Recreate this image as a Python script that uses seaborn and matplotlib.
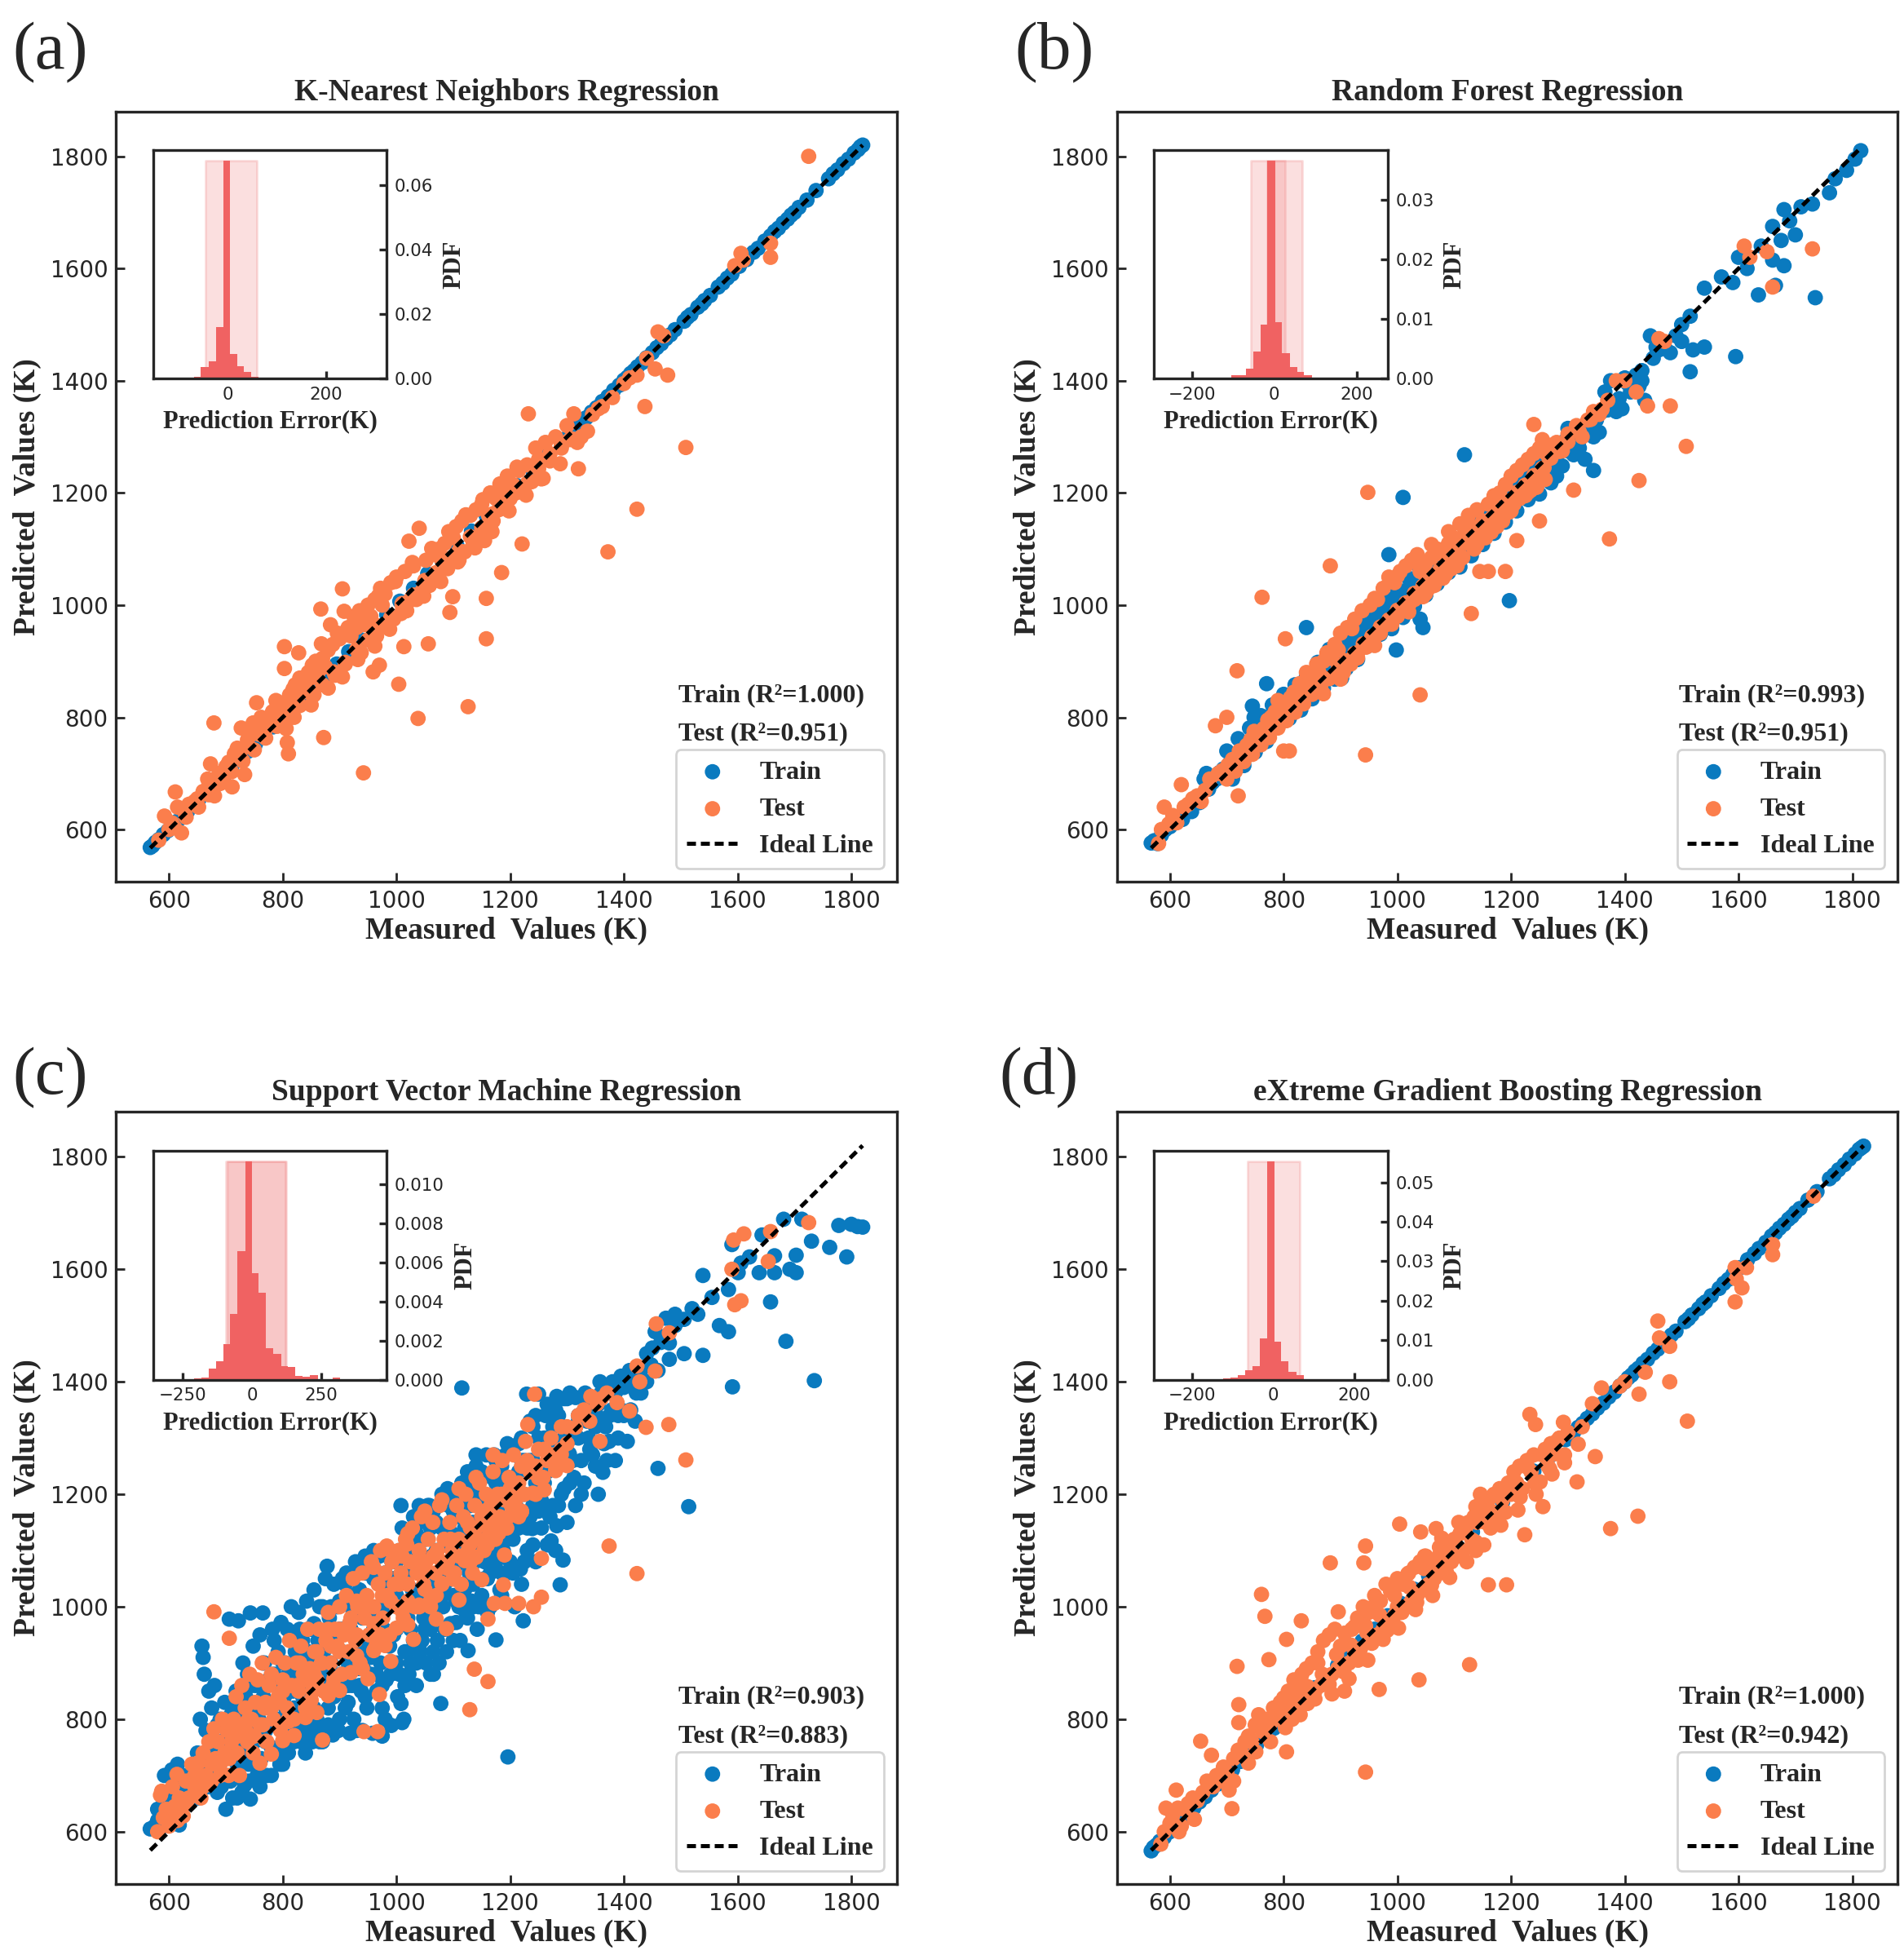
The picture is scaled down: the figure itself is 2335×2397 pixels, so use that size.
import numpy as np
import pandas as pd
import matplotlib
matplotlib.use('Agg')
import matplotlib.pyplot as plt
import seaborn as sns
from matplotlib.ticker import FormatStrFormatter

sns.set_style('ticks')
plt.rcParams['font.family'] = ['DejaVu Sans']
SERIF = 'Liberation Serif'

TRAIN_C = '#0a7abf'
TEST_C = '#fb7e4c'
HIST_C = '#f06262'
SPAN_C = '#f08080'

# ---------------- data ----------------
# training points that sit on the ideal line (KNN / XGB)
train_meas = [567, 571, 576, 582, 590, 598, 606, 615, 624, 633,
              642, 652, 662, 673, 685, 697, 710, 724, 738, 752,
              767, 783, 800, 818, 836, 855, 875, 895, 916, 938,
              960, 983, 1006, 1030, 1055, 1080, 1106, 1132, 1158, 1185,
              1212, 1240, 1268, 1296, 1310, 1318, 1326, 1334, 1343, 1352,
              1362, 1372, 1382, 1392, 1400, 1406, 1412, 1418, 1424, 1432,
              1440, 1450, 1458, 1466, 1474, 1482, 1490, 1506, 1512, 1518,
              1530, 1537, 1542, 1552, 1566, 1574, 1582, 1590, 1603, 1616,
              1628, 1636, 1648, 1658, 1665, 1672, 1680, 1688, 1694, 1700,
              1708, 1722, 1738, 1760, 1768, 1776, 1786, 1795, 1805, 1812,
              1816, 1820]
knn_train_pred = [568, 571, 577, 582, 591, 598, 607, 615, 625, 633,
                  643, 652, 663, 673, 686, 697, 711, 724, 739, 752,
                  768, 783, 801, 818, 837, 855, 876, 895, 917, 938,
                  961, 983, 1007, 1030, 1056, 1080, 1107, 1132, 1159, 1185,
                  1213, 1240, 1269, 1296, 1311, 1318, 1327, 1334, 1344, 1352,
                  1363, 1372, 1383, 1392, 1401, 1406, 1413, 1418, 1425, 1432,
                  1441, 1450, 1459, 1466, 1475, 1482, 1491, 1506, 1513, 1518,
                  1531, 1537, 1543, 1552, 1567, 1574, 1583, 1590, 1604, 1616,
                  1629, 1636, 1649, 1658, 1666, 1672, 1681, 1688, 1695, 1700,
                  1709, 1722, 1739, 1760, 1769, 1776, 1787, 1795, 1806, 1812,
                  1817, 1820]
xgb_train_pred = [566, 572, 576, 583, 590, 599, 606, 616, 624, 634,
                  642, 653, 662, 674, 685, 698, 710, 725, 738, 753,
                  767, 784, 800, 819, 836, 856, 875, 896, 916, 939,
                  960, 984, 1006, 1031, 1055, 1081, 1106, 1133, 1158, 1186,
                  1212, 1241, 1268, 1297, 1310, 1319, 1326, 1335, 1343, 1353,
                  1362, 1373, 1382, 1393, 1400, 1407, 1412, 1419, 1424, 1433,
                  1440, 1451, 1458, 1467, 1474, 1483, 1490, 1507, 1512, 1519,
                  1530, 1538, 1542, 1553, 1566, 1575, 1582, 1591, 1603, 1617,
                  1628, 1637, 1648, 1659, 1665, 1673, 1680, 1689, 1694, 1701,
                  1708, 1723, 1738, 1761, 1768, 1777, 1786, 1796, 1805, 1813,
                  1816, 1819]

# (measured, predicted) pairs
knn_test = np.array([
    (582, 581), (592, 624), (600, 600), (605, 612), (611, 667), (615, 640), (622, 594), (628, 630),
    (635, 645), (645, 650), (652, 640), (660, 668), (668, 690), (673, 717), (679, 790), (680, 660),
    (688, 700), (695, 685), (700, 712), (705, 720), (711, 676), (715, 735), (720, 745), (727, 781),
    (730, 745), (733, 698), (738, 760), (742, 770), (748, 790), (754, 826), (758, 770), (762, 800),
    (768, 775), (772, 790), (778, 800), (782, 810), (788, 830), (792, 800), (798, 812), (803, 887),
    (803, 926), (806, 780), (808, 755), (810, 735), (812, 840), (815, 820), (818, 850), (820, 800),
    (825, 830), (828, 915), (830, 870), (835, 845), (840, 860), (845, 880), (850, 870), (855, 840),
    (858, 900), (862, 880), (867, 993), (868, 931), (870, 905), (872, 764), (875, 890), (880, 920),
    (884, 965), (888, 930), (892, 875), (896, 950), (900, 940), (905, 1029), (908, 989), (910, 895),
    (915, 960), (920, 945), (925, 980), (930, 960), (935, 990), (938, 915), (942, 701), (945, 965),
    (950, 1000), (955, 980), (959, 881), (962, 1010), (965, 945), (970, 893), (972, 1030), (975, 1000),
    (980, 1020), (985, 960), (990, 1040), (995, 975), (1000, 1050), (1004, 859), (1008, 985),
    (1010, 1000), (1013, 926), (1015, 1060), (1020, 1005), (1022, 1114), (1025, 1010), (1030, 1070),
    (1035, 1010), (1038, 798), (1040, 1137), (1045, 1025), (1050, 1040), (1052, 1080), (1056, 931),
    (1058, 1035), (1061, 1043), (1065, 1090), (1070, 1045), (1075, 1100), (1080, 1080), (1085, 1110),
    (1090, 1065), (1094, 987), (1099, 1015), (1100, 1120), (1105, 1140), (1110, 1080), (1115, 1150),
    (1120, 1095), (1126, 819), (1130, 1160), (1135, 1110), (1140, 1170), (1145, 1120), (1150, 1180),
    (1155, 1115), (1158, 1012), (1158, 940), (1162, 1160), (1165, 1200), (1170, 1150), (1175, 1190),
    (1180, 1170), (1185, 1058), (1188, 1200), (1195, 1230), (1200, 1190), (1205, 1215), (1210, 1200),
    (1215, 1240), (1221, 1109), (1225, 1210), (1230, 1250), (1232, 1341), (1238, 1220), (1245, 1280),
    (1250, 1260), (1255, 1225), (1262, 1290), (1270, 1270), (1280, 1300), (1290, 1280), (1300, 1320),
    (1305, 1295), (1312, 1341), (1320, 1243), (1325, 1300), (1336, 1310), (1345, 1340), (1355, 1350),
    (1362, 1354), (1372, 1095), (1380, 1370), (1400, 1395), (1410, 1405), (1423, 1410), (1423, 1171),
    (1437, 1354), (1440, 1440), (1455, 1421), (1460, 1487), (1470, 1480), (1477, 1410), (1509, 1281),
    (1595, 1605), (1606, 1627), (1610, 1615), (1658, 1620), (1658, 1645), (1725, 1800)])
knn_test_band = np.array([
    (610, 603), (630, 622), (650, 655), (670, 662), (690, 682), (710, 703), (730, 722), (750, 742),
    (770, 763), (790, 784), (810, 798), (830, 821), (850, 843), (870, 858), (890, 881), (910, 898),
    (930, 921), (950, 938), (970, 963), (990, 978), (1010, 1003), (1030, 1018), (1050, 1044),
    (1070, 1058), (1090, 1083), (1110, 1097), (1130, 1122), (1150, 1138), (1170, 1163), (1190, 1177),
    (1210, 1203), (1230, 1217), (1250, 1243), (1270, 1257), (1290, 1284), (1310, 1296),
    (850, 822), (880, 852), (905, 872), (932, 903), (962, 927), (988, 957), (1018, 990), (1048, 1016),
    (1078, 1042), (1108, 1077), (1138, 1102), (1168, 1131), (1198, 1168), (1228, 1196), (1258, 1226),
    (1288, 1252), (1318, 1290), (765, 792), (795, 826), (822, 858), (852, 893), (878, 924),
    (912, 954), (942, 987), (968, 1016), (998, 1042), (1028, 1076), (1062, 1101), (1092, 1131),
    (1122, 1161), (1152, 1188), (1182, 1216), (1212, 1246)])

rf_train = np.array([
    (567, 576), (572, 580), (578, 575), (585, 590), (592, 600), (600, 605), (608, 612), (615, 620),
    (622, 618), (630, 640), (638, 632), (645, 655), (652, 648), (660, 690), (664, 700), (668, 672),
    (675, 684), (682, 690), (688, 702), (694, 708), (700, 700), (706, 720), (712, 700), (718, 735),
    (724, 728), (730, 740), (736, 745), (742, 755), (745, 820), (748, 800), (752, 770), (758, 790),
    (764, 780), (770, 860), (772, 800), (778, 790), (784, 815), (790, 800), (796, 825), (800, 810),
    (806, 820), (812, 826), (818, 835), (824, 830), (830, 850), (836, 845), (840, 960), (842, 860),
    (848, 870), (854, 865), (860, 880), (866, 878), (872, 890), (878, 900), (884, 895), (890, 910),
    (896, 915), (902, 870), (908, 930), (914, 925), (920, 940), (926, 935), (932, 960), (938, 950),
    (944, 965), (950, 960), (956, 980), (962, 975), (968, 990), (974, 985), (980, 1000), (985, 1090),
    (986, 995), (992, 1010), (998, 920), (1000, 1005), (1010, 1192), (1010, 1020), (1020, 1030),
    (1030, 1045), (1040, 975), (1040, 1050), (1045, 960), (1050, 1060), (1060, 1070), (1070, 1080),
    (1080, 1085), (1090, 1100), (1100, 1110), (1110, 1115), (1118, 1268), (1120, 1130), (1130, 1140),
    (1140, 1150), (1150, 1160), (1160, 1165), (1170, 1180), (1180, 1185), (1190, 1200), (1197, 1008),
    (1200, 1210), (1210, 1215), (1220, 1225), (1230, 1235), (1240, 1250), (1250, 1255), (1260, 1265),
    (1270, 1250), (1280, 1230), (1290, 1290), (1300, 1315), (1300, 1275), (1310, 1300), (1320, 1295),
    (1320, 1280), (1330, 1310), (1330, 1260), (1345, 1300), (1345, 1240), (1350, 1330), (1360, 1345),
    (1365, 1380), (1375, 1400), (1380, 1360), (1385, 1345), (1395, 1350), (1400, 1405), (1405, 1395),
    (1410, 1380), (1415, 1400), (1420, 1410), (1425, 1390), (1430, 1400), (1435, 1365), (1445, 1480),
    (1450, 1440), (1455, 1460), (1460, 1455), (1470, 1460), (1480, 1450), (1490, 1480), (1500, 1470),
    (1500, 1500), (1515, 1515), (1515, 1416), (1520, 1455), (1540, 1565), (1540, 1460), (1570, 1585),
    (1590, 1575), (1595, 1443), (1600, 1620), (1615, 1600), (1635, 1553), (1640, 1640), (1660, 1615),
    (1665, 1570), (1660, 1675), (1675, 1650), (1680, 1705), (1680, 1605), (1690, 1685), (1700, 1660),
    (1710, 1710), (1730, 1715), (1735, 1548), (1760, 1735), (1770, 1760), (1790, 1775), (1805, 1795),
    (1815, 1810)])
rf_train_band = np.array([
    (700, 740), (710, 690), (720, 762), (730, 714), (740, 781), (750, 738), (760, 803), (770, 757),
    (780, 822), (790, 784), (800, 841), (810, 798), (820, 858), (830, 813), (840, 872), (850, 833),
    (860, 898), (870, 852), (880, 921), (890, 868), (900, 932), (910, 887), (920, 951), (930, 903),
    (940, 978), (950, 928), (960, 992), (970, 948), (980, 1012), (990, 958), (1000, 1028), (1010, 978),
    (1020, 1048), (1030, 998), (1040, 1062), (1050, 1018), (1060, 1078), (1070, 1038), (1080, 1098),
    (1090, 1058), (1100, 1118), (1110, 1068), (1120, 1098), (1130, 1088), (1140, 1118), (1150, 1108),
    (1160, 1138), (1170, 1128), (1180, 1158), (1190, 1148), (1200, 1178), (1210, 1168), (1220, 1198),
    (1230, 1188), (1240, 1218), (1250, 1198), (1260, 1238), (1270, 1218), (1280, 1258), (1290, 1248),
    (1300, 1288), (1310, 1268), (1320, 1308), (1340, 1318), (1355, 1308), (1370, 1348), (1390, 1368),
    (1410, 1395), (1430, 1418)])

rf_test = np.array([
    (580, 575), (585, 600), (590, 640), (598, 610), (605, 625), (612, 612), (620, 680), (625, 640),
    (632, 645), (640, 655), (648, 660), (655, 650), (662, 670), (670, 690), (680, 785), (685, 700),
    (692, 705), (700, 800), (702, 715), (710, 725), (718, 883), (720, 660), (722, 740), (728, 735),
    (735, 750), (742, 760), (748, 775), (755, 765), (762, 1014), (765, 780), (772, 795), (778, 800),
    (785, 810), (790, 830), (795, 815), (800, 740), (803, 940), (806, 820), (810, 740), (812, 835),
    (818, 845), (822, 830), (828, 860), (835, 850), (840, 880), (845, 870), (850, 865), (858, 895),
    (862, 880), (870, 900), (876, 915), (882, 1070), (884, 905), (890, 930), (896, 920), (900, 950),
    (905, 880), (912, 960), (918, 895), (925, 975), (930, 915), (938, 990), (944, 733), (945, 925),
    (948, 1201), (952, 1000), (958, 940), (965, 1010), (970, 950), (975, 1030), (980, 965),
    (985, 1050), (990, 975), (995, 1040), (1000, 980), (1005, 1060), (1010, 990), (1015, 1070),
    (1020, 1000), (1025, 1080), (1030, 1010), (1035, 1090), (1040, 840), (1040, 1060), (1045, 1015),
    (1050, 1075), (1055, 1030), (1060, 1085), (1065, 1035), (1070, 1100), (1075, 1050), (1080, 1090),
    (1085, 1055), (1090, 1110), (1095, 1065), (1100, 1120), (1105, 1070), (1110, 1145), (1115, 1085),
    (1120, 1130), (1125, 1160), (1130, 985), (1130, 1140), (1135, 1100), (1140, 1170), (1145, 1060),
    (1150, 1150), (1155, 1120), (1160, 1060), (1160, 1180), (1165, 1130), (1170, 1195), (1175, 1140),
    (1180, 1200), (1185, 1150), (1190, 1060), (1190, 1215), (1195, 1165), (1200, 1230), (1205, 1180),
    (1210, 1115), (1210, 1240), (1215, 1190), (1220, 1250), (1225, 1195), (1230, 1260), (1235, 1205),
    (1240, 1322), (1240, 1270), (1245, 1210), (1250, 1150), (1250, 1280), (1255, 1295), (1258, 1245),
    (1262, 1270), (1270, 1285), (1280, 1290), (1290, 1275), (1300, 1305), (1310, 1205), (1315, 1320),
    (1325, 1300), (1335, 1330), (1345, 1345), (1355, 1340), (1370, 1365), (1373, 1118), (1385, 1400),
    (1400, 1400), (1420, 1380), (1425, 1222), (1440, 1355), (1460, 1475), (1470, 1470), (1480, 1355),
    (1508, 1283), (1610, 1640), (1620, 1620), (1650, 1630), (1660, 1567), (1730, 1635)])
rf_test_band = np.array([
    (700, 690), (715, 704), (730, 721), (745, 734), (760, 751), (775, 764), (790, 781), (805, 794),
    (820, 809), (835, 824), (850, 841), (865, 854), (880, 869), (895, 884), (910, 901), (925, 914),
    (940, 931), (955, 944), (970, 961), (985, 974), (1000, 991), (1015, 1004), (1030, 1021),
    (1045, 1034), (1060, 1051), (1075, 1064), (1090, 1081), (1105, 1094), (1120, 1111), (1135, 1124),
    (1150, 1141), (1165, 1154), (1180, 1171), (1195, 1184), (1210, 1201), (1225, 1214), (1240, 1231),
    (1255, 1244), (1270, 1262), (1285, 1274), (1300, 1291), (1320, 1309), (1340, 1331), (1360, 1349),
    (870, 842), (900, 868), (930, 906), (960, 928), (990, 966), (1020, 988), (1050, 1021), (1080, 1048),
    (1110, 1081), (1140, 1108), (1170, 1141), (1200, 1168), (1230, 1201), (1260, 1224),
    (1000, 1052), (1030, 1078), (960, 1012), (920, 958), (1060, 1108), (1090, 1131)])

svm_train = np.array([
    (567, 605), (575, 610), (580, 640), (585, 615), (590, 660), (592, 700), (598, 620), (600, 665),
    (605, 710), (610, 690), (612, 640), (618, 612), (620, 700), (625, 660), (630, 680), (635, 650),
    (640, 700), (645, 720), (650, 660), (652, 735), (655, 800), (658, 930), (660, 910), (662, 880),
    (665, 780), (668, 700), (670, 850), (672, 760), (675, 820), (678, 690), (680, 860), (682, 740),
    (685, 790), (688, 720), (690, 800), (692, 680), (695, 760), (698, 830), (700, 700), (702, 780),
    (705, 735), (706, 978), (708, 690), (710, 810), (712, 660), (715, 760), (718, 850), (720, 720),
    (722, 975), (725, 800), (728, 670), (730, 760), (733, 683), (735, 840), (738, 880), (740, 720),
    (743, 989), (743, 658), (745, 790), (748, 930), (750, 760), (752, 860), (755, 700), (758, 800),
    (760, 950), (762, 730), (765, 989), (766, 840), (768, 900), (770, 780), (772, 700), (775, 870),
    (778, 820), (780, 750), (782, 960), (785, 880), (788, 800), (790, 740), (792, 920), (795, 860),
    (797, 972), (798, 780), (800, 900), (803, 840), (805, 760), (808, 960), (810, 880), (812, 800),
    (815, 1000), (818, 850), (820, 760), (822, 920), (825, 880), (828, 990), (830, 820), (832, 760),
    (835, 940), (838, 870), (840, 780), (842, 1010), (845, 900), (848, 840), (850, 960), (852, 760),
    (855, 1030), (858, 880), (860, 800), (862, 940), (865, 1000), (868, 860), (870, 760), (872, 920),
    (875, 1050), (878, 1072), (880, 820), (882, 980), (885, 900), (888, 772), (890, 1040), (892, 860),
    (895, 950), (898, 780), (900, 1010), (903, 880), (906, 960), (910, 820), (912, 1060), (915, 900),
    (918, 775), (920, 1000), (922, 860), (925, 950), (928, 1080), (930, 780), (932, 920), (935, 1030),
    (938, 850), (940, 980), (942, 890), (945, 1060), (948, 820), (950, 940), (952, 1000), (955, 880),
    (958, 775), (960, 1050), (962, 930), (965, 850), (968, 1000), (970, 1090), (972, 900), (975, 770),
    (978, 960), (980, 1040), (982, 870), (985, 1000), (988, 930), (991, 789), (992, 1080), (995, 900),
    (998, 1020), (1000, 960), (1002, 840), (1005, 1100), (1008, 1180), (1008, 828), (1010, 794),
    (1010, 1000), (1013, 800), (1015, 920), (1018, 1060), (1020, 980), (1022, 880), (1025, 1120),
    (1028, 1030), (1030, 940), (1032, 1080), (1035, 860), (1038, 1000), (1040, 1150), (1042, 920),
    (1045, 1060), (1048, 980), (1050, 1120), (1052, 900), (1055, 1040), (1058, 1180), (1060, 960),
    (1062, 1090), (1065, 880), (1068, 1010), (1070, 1150), (1072, 940), (1075, 1060), (1078, 828),
    (1080, 1200), (1082, 1000), (1085, 1110), (1088, 920), (1090, 1050), (1092, 1180), (1095, 970),
    (1098, 1130), (1100, 1020), (1103, 1070), (1105, 972), (1108, 1200), (1110, 1100), (1112, 940),
    (1115, 1389), (1115, 1160), (1118, 1040), (1120, 1190), (1122, 990), (1125, 1120), (1126, 922),
    (1128, 1060), (1130, 1220), (1132, 1010), (1135, 1150), (1138, 1080), (1140, 1250), (1142, 960),
    (1145, 1180), (1148, 1100), (1150, 1020), (1152, 1200), (1155, 1130), (1158, 1270), (1160, 1050),
    (1162, 1170), (1165, 1000), (1168, 1230), (1170, 1120), (1172, 1270), (1175, 941), (1175, 1080),
    (1178, 1200), (1180, 1150), (1182, 1030), (1185, 1250), (1188, 1100), (1190, 1190), (1192, 1270),
    (1195, 1060), (1196, 733), (1198, 1220), (1200, 1140), (1205, 1280), (1208, 1000), (1210, 1180),
    (1215, 1240), (1218, 1067), (1220, 1300), (1223, 975), (1225, 1200), (1229, 1378), (1230, 1140),
    (1235, 1260), (1239, 1139), (1240, 1320), (1245, 1220), (1250, 1378), (1250, 1170), (1255, 1189),
    (1258, 1290), (1262, 1340), (1265, 1240), (1270, 1300), (1272, 1117), (1275, 1180), (1280, 1350),
    (1282, 1144), (1282, 1374), (1285, 1260), (1288, 1039), (1290, 1320), (1293, 1083), (1295, 1210),
    (1300, 1370), (1304, 1272), (1308, 1300), (1312, 1230), (1315, 1372), (1320, 1340), (1325, 1260),
    (1328, 1344), (1332, 1380), (1338, 1300), (1345, 1360), (1350, 1250), (1353, 1339), (1358, 1400),
    (1363, 1239), (1368, 1320), (1374, 1294), (1379, 1350), (1385, 1380), (1390, 1300), (1395, 1410),
    (1400, 1340), (1406, 1294), (1412, 1350), (1417, 1400), (1422, 1380), (1430, 1420), (1440, 1450),
    (1448, 1430), (1455, 1489), (1460, 1246), (1465, 1470), (1474, 1513), (1480, 1469), (1490, 1500),
    (1506, 1450), (1506, 1511), (1514, 1178), (1520, 1530), (1530, 1520), (1539, 1589), (1539, 1447),
    (1555, 1550), (1568, 1500), (1584, 1564), (1584, 1489), (1590, 1644), (1591, 1391), (1601, 1594),
    (1606, 1611), (1621, 1622), (1638, 1594), (1643, 1661), (1658, 1542), (1665, 1624), (1665, 1594),
    (1681, 1689), (1685, 1472), (1692, 1600), (1703, 1625), (1703, 1594), (1713, 1689), (1730, 1650),
    (1735, 1402), (1762, 1639), (1778, 1678), (1792, 1622), (1800, 1680), (1811, 1676), (1820, 1675)])
svm_train_band = np.array([
    (580, 620), (590, 610), (600, 640), (605, 630), (610, 660), (615, 720), (620, 640), (625, 700),
    (630, 660), (635, 700), (640, 680), (645, 660), (650, 740), (660, 690), (665, 720), (670, 680),
    (675, 740), (680, 710), (685, 670), (690, 760), (695, 700),
    (700, 640), (705, 760), (710, 700), (715, 820), (720, 660), (725, 740), (730, 900), (735, 780),
    (740, 690), (745, 860), (750, 720), (755, 820), (760, 680), (765, 900), (770, 760), (775, 830),
    (780, 700), (785, 940), (790, 800), (795, 720), (800, 870), (805, 820), (810, 740), (815, 940),
    (820, 880), (825, 780), (830, 960), (835, 840), (840, 740), (845, 920), (850, 800), (855, 970),
    (860, 860), (865, 760), (870, 1000), (875, 880), (880, 790), (885, 960), (890, 840), (895, 1000),
    (900, 800), (905, 920), (910, 1040), (915, 860), (920, 960), (925, 800), (930, 1060), (935, 890),
    (940, 1000), (945, 840), (950, 1080), (955, 930), (960, 990), (965, 880), (970, 1040), (975, 820),
    (980, 950), (985, 1100), (990, 880), (995, 1050), (1000, 900), (1005, 1000), (1010, 1140),
    (1015, 860), (1020, 1060), (1025, 960), (1030, 1160), (1035, 900), (1040, 1020), (1045, 1120),
    (1050, 960), (1055, 1180), (1060, 1040), (1065, 920), (1070, 1100), (1075, 1000), (1080, 1140),
    (1085, 960), (1090, 1210), (1095, 1060), (1100, 940), (1105, 1160), (1110, 1000), (1115, 1220),
    (1120, 1080), (1125, 980), (1130, 1180), (1135, 1040), (1140, 1120), (1145, 1000), (1150, 1240),
    (1155, 1080), (1160, 1190), (1165, 1060), (1170, 1150), (1175, 1260), (1180, 1100), (1185, 1020),
    (1190, 1230), (1195, 1120), (1200, 1280), (1205, 1060), (1210, 1220), (1215, 1140), (1220, 1040),
    (1225, 1260), (1230, 1100), (1235, 1330), (1240, 1180), (1245, 1080), (1250, 1300), (1255, 1140),
    (1260, 1220), (1265, 1360), (1270, 1160), (1275, 1260), (1280, 1100), (1285, 1340), (1290, 1200),
    (1295, 1300), (1300, 1150), (1305, 1380), (1310, 1260), (1315, 1180), (1320, 1300), (1330, 1220),
    (1335, 1370), (1340, 1280), (1350, 1320), (1355, 1200), (1360, 1380), (1370, 1260), (1375, 1340),
    (1380, 1400), (1390, 1340), (1400, 1390), (1410, 1420), (1420, 1330), (1430, 1380), (1440, 1400),
    (1450, 1460), (1460, 1420), (1470, 1480), (1480, 1440), (1490, 1520),
    (760, 770), (800, 780), (840, 850), (880, 880), (920, 910), (960, 960), (1000, 1020),
    (1040, 1090), (1080, 1060), (1120, 1140), (1160, 1100), (1200, 1210), (1240, 1260),
    (1280, 1280), (1320, 1330), (900, 960), (940, 920), (980, 1060), (1020, 1000), (1060, 1140),
    (1100, 1090), (1140, 1200), (1180, 1180), (1220, 1150), (1260, 1300),
    (805, 900), (815, 780), (825, 920), (835, 800), (845, 960), (855, 820), (865, 930), (875, 780),
    (885, 1000), (895, 860), (905, 1050), (915, 830), (925, 1010), (935, 860), (945, 1090), (955, 910),
    (965, 1060), (975, 860), (985, 1030), (995, 950), (1005, 880), (1015, 1100), (1025, 900),
    (1035, 1130), (1045, 940), (1055, 1010), (1065, 1170), (1075, 900), (1085, 1040), (1095, 1190),
    (1105, 1010), (1115, 1090), (1125, 1240), (1135, 1000), (1145, 1210), (1155, 1050), (1165, 1120),
    (1175, 1220), (1185, 1060), (1195, 1290), (1205, 1120), (1215, 1290), (1225, 1080), (1235, 1160),
    (1245, 1340), (1255, 1240), (1265, 1110), (1275, 1320), (1285, 1180), (1295, 1370), (1305, 1220),
    (1315, 1320), (1325, 1200), (1335, 1330), (1345, 1270), (1355, 1360), (1365, 1290), (1375, 1380),
    (1385, 1260), (1395, 1350), (700, 760), (720, 800), (740, 740), (760, 860), (780, 790),
    (800, 720), (820, 820), (840, 900), (860, 780), (880, 940), (900, 850), (920, 1020), (940, 780),
    (960, 1100), (980, 800), (1000, 1080), (1020, 920), (1040, 1180), (1060, 880), (1080, 1020),
    (1100, 1170), (1120, 1030), (1140, 1270), (1160, 990), (1180, 1210), (1200, 1080), (1220, 1260),
    (1240, 1110), (1260, 1180), (1280, 1250)])

svm_test = np.array([
    (580, 600), (585, 665), (587, 672), (590, 625), (595, 640), (600, 610), (603, 622), (606, 680),
    (610, 645), (614, 702), (618, 660), (622, 630), (625, 628), (630, 690), (635, 660), (640, 720),
    (645, 680), (650, 700), (652, 723), (656, 660), (660, 740), (665, 700), (670, 760), (675, 690),
    (679, 991), (679, 783), (682, 730), (686, 760), (690, 700), (694, 800), (698, 740), (702, 780),
    (706, 944), (706, 730), (710, 760), (714, 800), (718, 840), (720, 770), (724, 700), (728, 860),
    (730, 790), (734, 820), (738, 760), (742, 880), (745, 800), (748, 740), (752, 830), (756, 870),
    (760, 790), (764, 900), (768, 820), (772, 760), (776, 860), (780, 880), (784, 800), (788, 910),
    (792, 840), (796, 780), (800, 870), (804, 900), (808, 820), (812, 940), (816, 860), (820, 800),
    (824, 900), (828, 850), (832, 930), (836, 880), (840, 820), (844, 960), (848, 890), (852, 850),
    (856, 920), (860, 870), (864, 960), (868, 900), (870, 763), (872, 850), (876, 940), (880, 990),
    (884, 900), (888, 860), (892, 960), (896, 930), (900, 1000), (904, 880), (908, 950), (912, 1020),
    (916, 920), (918, 972), (920, 980), (924, 1050), (928, 940), (932, 1000), (936, 900), (940, 1060),
    (943, 778), (944, 980), (948, 1020), (952, 950), (956, 1080), (960, 1000), (964, 930), (967, 778),
    (968, 1040), (970, 844), (972, 1100), (976, 980), (980, 1060), (983, 1108), (984, 1020), (988, 950),
    (992, 1080), (996, 1040), (1000, 1000), (1004, 1100), (1008, 1060), (1012, 980), (1016, 1120),
    (1018, 1111), (1020, 1040), (1024, 1080), (1028, 1140), (1032, 1000), (1036, 1060), (1040, 1100),
    (1044, 1160), (1048, 1040), (1052, 1080), (1056, 1120), (1060, 1000), (1064, 1150), (1068, 1060),
    (1072, 1100), (1076, 1180), (1080, 1040), (1084, 1120), (1088, 961), (1090, 1080), (1094, 1150),
    (1098, 1100), (1102, 1060), (1106, 1180), (1110, 1120), (1114, 1040), (1118, 1160), (1122, 1200),
    (1126, 1100), (1129, 817), (1130, 1140), (1134, 1060), (1137, 889), (1138, 1180), (1142, 1120),
    (1146, 1220), (1150, 1160), (1154, 1100), (1158, 1200), (1161, 978), (1161, 867), (1162, 1140),
    (1166, 1180), (1170, 1240), (1172, 1006), (1174, 1120), (1178, 1200), (1182, 1160), (1186, 1260),
    (1188, 1039), (1190, 1190), (1191, 1006), (1194, 1140), (1198, 1230), (1202, 1180), (1206, 1270),
    (1210, 1210), (1215, 1006), (1215, 1160), (1220, 1250), (1225, 1200), (1227, 1294), (1231, 1324),
    (1235, 1240), (1241, 1000), (1243, 1378), (1245, 1200), (1250, 1280), (1255, 1086), (1255, 1017),
    (1258, 1230), (1265, 1260), (1272, 1300), (1280, 1250), (1290, 1280), (1300, 1320), (1315, 1319),
    (1330, 1350), (1342, 1374), (1353, 1361), (1358, 1294), (1370, 1380), (1374, 1108), (1388, 1363),
    (1410, 1348), (1423, 1428), (1423, 1059), (1428, 1400), (1439, 1319), (1455, 1419), (1457, 1503),
    (1479, 1324), (1480, 1487), (1509, 1261), (1590, 1600), (1593, 1652), (1595, 1537), (1606, 1544),
    (1611, 1663), (1654, 1614), (1658, 1667), (1725, 1683)])
svm_test_band = np.array([
    (600, 630), (615, 620), (630, 650), (645, 700), (660, 680), (675, 720), (690, 720), (705, 700),
    (720, 740), (735, 780), (750, 770), (765, 790), (780, 820), (795, 830), (810, 800), (825, 860),
    (840, 870), (855, 880), (870, 900), (885, 930), (900, 920), (915, 960), (930, 950), (945, 1000),
    (960, 970), (975, 1020), (990, 1010), (1005, 1040), (1020, 1010), (1035, 1080), (1050, 1060),
    (1065, 1090), (1080, 1080), (1095, 1120), (1110, 1090), (1125, 1150), (1140, 1140), (1155, 1170),
    (1170, 1160), (1185, 1200), (1200, 1210), (1215, 1220), (1230, 1260), (1245, 1250), (1260, 1280),
    (1275, 1270), (1290, 1320), (1300, 1290), (1320, 1340), (1340, 1330), (1360, 1370),
    (1010, 1090), (1040, 1000), (1070, 1020), (1100, 1050), (1130, 1080), (1160, 1110), (1190, 1140),
    (1220, 1170), (960, 1070), (990, 1100), (1020, 1130), (1050, 1170), (1080, 1190), (1110, 1210),
    (1140, 1230), (1170, 1270), (880, 960), (900, 960), (930, 1010), (860, 920), (830, 900),
    (800, 850), (770, 830), (740, 800), (710, 790),
    (760, 722), (780, 738), (800, 762), (820, 771), (840, 803), (860, 812), (880, 842), (900, 851),
    (920, 883), (940, 890), (960, 922), (980, 931), (1000, 962), (1020, 968), (1040, 1003),
    (1060, 1011), (1080, 1042), (1100, 1049), (1120, 1082), (1140, 1088), (1160, 1122), (1180, 1131),
    (1200, 1162), (1220, 1169), (1240, 1202), (1260, 1208), (1280, 1242), (1300, 1251),
    (770, 761), (810, 796), (850, 834), (890, 872), (930, 913), (970, 951), (1010, 992), (1050, 1031),
    (1090, 1068), (1130, 1112), (1170, 1149), (1210, 1191), (1250, 1229), (1290, 1271),
    (1030, 942), (1070, 978), (1110, 1012), (1150, 1048), (1190, 1092), (990, 903), (950, 872)])

xgb_test = np.array([
    (584, 578), (590, 600), (593, 642), (600, 615), (605, 630), (611, 674), (614, 642), (616, 600),
    (620, 610), (625, 640), (632, 650), (640, 660), (643, 622), (648, 655), (654, 761), (658, 670),
    (665, 690), (673, 736), (676, 680), (682, 700), (688, 690), (694, 715), (700, 700), (704, 674),
    (709, 641), (712, 730), (718, 894), (720, 745), (721, 826), (721, 794), (726, 740), (732, 760),
    (738, 770), (744, 760), (750, 790), (756, 808), (761, 1022), (762, 780), (767, 983), (768, 800),
    (774, 906), (776, 790), (782, 820), (788, 810), (794, 830), (800, 820), (805, 942), (805, 742),
    (808, 850), (812, 830), (815, 800), (818, 870), (822, 850), (826, 815), (831, 975), (832, 880),
    (836, 830), (840, 890), (842, 828), (846, 840), (850, 900), (855, 850), (860, 920), (865, 860),
    (870, 940), (875, 870), (880, 950), (882, 1078), (885, 880), (890, 960), (895, 890), (896, 991),
    (900, 930), (905, 890), (907, 850), (907, 953), (910, 935), (915, 900), (920, 960), (925, 915),
    (930, 980), (935, 925), (940, 1000), (941, 1078), (944, 1108), (944, 706), (946, 955), (950, 990),
    (955, 935), (960, 1020), (965, 950), (968, 853), (970, 1010), (975, 960), (980, 1040), (985, 975),
    (990, 1030), (995, 985), (1000, 1000), (1000, 1050), (1004, 1147), (1005, 990), (1010, 1040),
    (1015, 1000), (1020, 1060), (1025, 1010), (1030, 1070), (1035, 1020), (1038, 870), (1040, 1080),
    (1041, 1133), (1045, 1030), (1050, 1090), (1055, 1040), (1060, 1070), (1065, 1050), (1068, 1139),
    (1070, 1080), (1074, 1106), (1075, 1060), (1080, 1100), (1085, 1070), (1090, 1110), (1095, 1080),
    (1100, 1120), (1105, 1090), (1110, 1130), (1115, 1100), (1120, 1140), (1127, 897), (1131, 1119),
    (1135, 1160), (1138, 1100), (1140, 1150), (1146, 1200), (1150, 1170), (1155, 1150), (1160, 1039),
    (1160, 1190), (1165, 1170), (1170, 1200), (1175, 1160), (1180, 1210), (1185, 1190), (1192, 1039),
    (1195, 1220), (1200, 1200), (1205, 1240), (1210, 1220), (1215, 1250), (1220, 1210), (1224, 1128),
    (1228, 1260), (1233, 1342), (1235, 1240), (1240, 1270), (1243, 1324), (1245, 1220), (1251, 1222),
    (1256, 1178), (1260, 1280), (1265, 1250), (1270, 1290), (1278, 1272), (1285, 1300), (1292, 1328),
    (1294, 1256), (1300, 1310), (1316, 1222), (1318, 1289), (1325, 1320), (1343, 1361), (1348, 1267),
    (1359, 1389), (1375, 1139), (1391, 1392), (1400, 1400), (1423, 1161), (1425, 1378), (1436, 1417),
    (1458, 1508), (1461, 1478), (1479, 1463), (1479, 1400), (1510, 1330), (1594, 1603), (1596, 1583),
    (1606, 1567), (1594, 1542), (1614, 1603), (1660, 1644), (1660, 1626), (1732, 1730)])
xgb_test_band = np.array([
    (700, 706), (712, 690), (726, 738), (738, 722), (751, 742), (763, 778), (777, 760), (790, 801),
    (803, 785), (817, 830), (829, 808), (842, 858), (855, 836), (868, 880), (880, 862), (893, 915),
    (906, 884), (918, 932), (931, 905), (944, 966), (957, 940), (969, 985), (982, 958), (995, 1020),
    (1008, 990), (1021, 1035), (1034, 1008), (1047, 1068), (1060, 1038), (1073, 1090), (1086, 1062),
    (1099, 1118), (1112, 1090), (1125, 1150), (1138, 1115), (1151, 1170), (1164, 1140), (1177, 1198),
    (1190, 1168), (1203, 1222), (1216, 1195), (1229, 1248), (1242, 1220), (1255, 1270), (1268, 1245),
    (1281, 1295), (1294, 1270),
    (885, 845), (915, 872), (948, 905), (975, 942), (1002, 962), (1032, 995), (1062, 1020),
    (1092, 1052), (1122, 1080), (1152, 1110), (1182, 1145), (1212, 1172), (1244, 1200), (1272, 1236),
    (925, 965), (958, 1000), (988, 1028), (1018, 1058), (1048, 1090), (1078, 1122), (1108, 1150),
    (1138, 1178), (860, 900), (830, 870), (800, 838)])

# prediction-error histograms (bin edges in K, PDF heights)
knn_err_edges = [-129, -114, -99, -84, -68, -54, -39, -23, -8, 5.5, 19, 33, 48, 63, 78]
knn_err_pdf = [0.0002, 0.00005, 0.0002, 0.0002, 0.0006, 0.0036, 0.0054, 0.016,
               0.0674, 0.0076, 0.0039, 0.0022, 0.0006, 0.00025]
rf_err_edges = [-123, -105, -87, -68.5, -52, -33.6, -16.5, 2, 18.5, 37, 55, 72, 91, 107]
rf_err_pdf = [0.0001, 0.0006, 0.0006, 0.0017, 0.0045, 0.0091, 0.0366, 0.0095,
              0.0043, 0.002, 0.0011, 0.00055, 0.0002]
svm_err_edges = [-289, -263, -237, -211, -184, -158, -131, -105, -79, -52, -25, -1,
                 24, 51, 78, 105, 131, 158, 184, 211, 238, 265, 292, 318]
svm_err_pdf = [0.00005, 0.0, 0.00003, 0.00007, 0.0001, 0.00058, 0.00094, 0.00183,
               0.00336, 0.00657, 0.01118, 0.00544, 0.00444, 0.00163, 0.00132, 0.00069,
               0.00067, 0.00021, 0.00014, 0.00024, 0.00004, 0.00004, 0.0001]
xgb_err_edges = [-124, -106, -87, -69, -52, -33, -15, 3.4, 20, 38, 57, 75]
xgb_err_pdf = [0.0003, 0.0005, 0.0011, 0.0025, 0.0034, 0.0104, 0.0553, 0.0096,
               0.0047, 0.0021, 0.0012]

# error bands (train / test) shown in the insets
knn_bands = [(-45, 60)]
rf_bands = [(-56, 68), (-16.5, 26)]
svm_bands = [(-94, 122), (-90, 125)]
xgb_bands = [(-64, 65)]

titles = ['K-Nearest Neighbors Regression', 'Random Forest Regression',
          'Support Vector Machine Regression', 'eXtreme Gradient Boosting Regression']
letters = ['(a)', '(b)', '(c)', '(d)']
r2_train = ['1.000', '0.993', '0.903', '1.000']
r2_test = ['0.951', '0.951', '0.883', '0.942']

# ---------------- figure ----------------
fig = plt.figure(figsize=(2335 / 200, 2397 / 200), dpi=200)
fig.patch.set_facecolor('white')

rects = [[0.061, 0.549, 0.41, 0.394], [0.5867, 0.549, 0.41, 0.394],
         [0.061, 0.0363, 0.41, 0.395], [0.5867, 0.0363, 0.41, 0.395]]
letter_xy = [(0.0064, 0.973), (0.533, 0.973), (0.0064, 0.4485), (0.5246, 0.4485)]

rf_train_all = np.vstack([rf_train, rf_train_band])
svm_train_all = np.vstack([svm_train, svm_train_band])
train_sets = [(train_meas, knn_train_pred), (rf_train_all[:, 0], rf_train_all[:, 1]),
              (svm_train_all[:, 0], svm_train_all[:, 1]), (train_meas, xgb_train_pred)]
test_sets = [np.vstack([knn_test, knn_test_band]), np.vstack([rf_test, rf_test_band]),
             np.vstack([svm_test, svm_test_band]), np.vstack([xgb_test, xgb_test_band])]
hists = [(knn_err_edges, knn_err_pdf), (rf_err_edges, rf_err_pdf),
         (svm_err_edges, svm_err_pdf), (xgb_err_edges, xgb_err_pdf)]
bands = [knn_bands, rf_bands, svm_bands, xgb_bands]
in_xlims = [(-151, 323), (-291, 274), (-358, 488), (-294, 282)]
in_xticks = [[0, 200], [-200, 0, 200], [-250, 0, 250], [-200, 0, 200]]
in_yticks = [[0, 0.02, 0.04, 0.06], [0, 0.01, 0.02, 0.03],
             [0, 0.002, 0.004, 0.006, 0.008, 0.010], [0, 0.01, 0.02, 0.03, 0.04, 0.05]]
in_fmts = ['%.2f', '%.2f', '%.3f', '%.2f']

bold = dict(family=SERIF, weight='bold')

for i in range(4):
    ax = fig.add_axes(rects[i])
    tx, ty = train_sets[i]
    te = test_sets[i]

    sns.scatterplot(x=np.asarray(tx), y=np.asarray(ty), color=TRAIN_C, s=46,
                    edgecolor='none', label='Train', ax=ax, zorder=2)
    sns.scatterplot(x=te[:, 0], y=te[:, 1], color=TEST_C, s=46,
                    edgecolor='none', label='Test', ax=ax, zorder=3)
    lo = min(np.min(tx), te[:, 0].min())
    hi = max(np.max(tx), te[:, 0].max())
    ax.plot([lo, hi], [lo, hi], ls=(0, (2.2, 1.2)), color='black', lw=1.8,
            label='Ideal Line', zorder=4)

    ax.set_xlim(507, 1880)
    ax.set_ylim(507, 1880)
    ax.set_xticks(range(600, 1801, 200))
    ax.set_yticks(range(600, 1801, 200))
    ax.tick_params(direction='in', labelsize=10, length=4, width=1)
    for sp in ax.spines.values():
        sp.set_linewidth(1.2)
        sp.set_visible(True)

    ax.set_title(titles[i], fontsize=13.5, pad=5, **bold)
    ax.set_xlabel('Measured  Values (K)', fontsize=13.5, labelpad=2, **bold)
    ax.set_ylabel('Predicted  Values (K)', fontsize=13.5, labelpad=4, **bold)

    ax.text(0.72, 0.242, f'Train (R\u00b2={r2_train[i]})', transform=ax.transAxes,
            fontsize=11.5, va='center', ha='left', **bold)
    ax.text(0.72, 0.1915, f'Test (R\u00b2={r2_test[i]})', transform=ax.transAxes,
            fontsize=11.5, va='center', ha='left', **bold)
    ax.legend(loc='lower right', prop=dict(family=SERIF, weight='bold', size=11.5),
              frameon=True, fancybox=True, edgecolor='#d0d0d0', framealpha=0.9)

    fig.text(letter_xy[i][0], letter_xy[i][1], letters[i], fontsize=30,
             family=SERIF, va='center', ha='left')

    # inset histogram of prediction errors
    ax_in = ax.inset_axes([0.0475, 0.653, 0.299, 0.297])
    edges, pdf = hists[i]
    edges = [float(e) for e in edges]
    err_df = pd.DataFrame({'err': [(edges[k] + edges[k + 1]) / 2 for k in range(len(pdf))],
                           'pdf': pdf})
    top = max(pdf)
    for b0, b1 in bands[i]:
        ax_in.fill_between([b0, b1], 0, top, color=SPAN_C, alpha=0.25,
                           edgecolor=SPAN_C, linewidth=1, zorder=1)
    sns.histplot(data=err_df, x='err', weights='pdf', bins=edges, ax=ax_in,
                 color=HIST_C, alpha=1, edgecolor='none', linewidth=0, zorder=2)
    ax_in.set_xlim(*in_xlims[i])
    ax_in.set_ylim(0, top * 1.05)
    ax_in.set_xticks(in_xticks[i])
    ax_in.set_yticks(in_yticks[i])
    ax_in.yaxis.set_major_formatter(FormatStrFormatter(in_fmts[i]))
    ax_in.yaxis.tick_right()
    ax_in.yaxis.set_label_position('right')
    ax_in.tick_params(direction='in', labelsize=7.7, length=3.2, width=1.2)
    for sp in ax_in.spines.values():
        sp.set_linewidth(1.2)
        sp.set_visible(True)
    ax_in.set_xlabel('Prediction Error(K)', fontsize=11, labelpad=3, **bold)
    ax_in.set_ylabel('PDF', fontsize=11, labelpad=4, **bold)

fig.savefig('out.png', dpi=200, facecolor='white')
